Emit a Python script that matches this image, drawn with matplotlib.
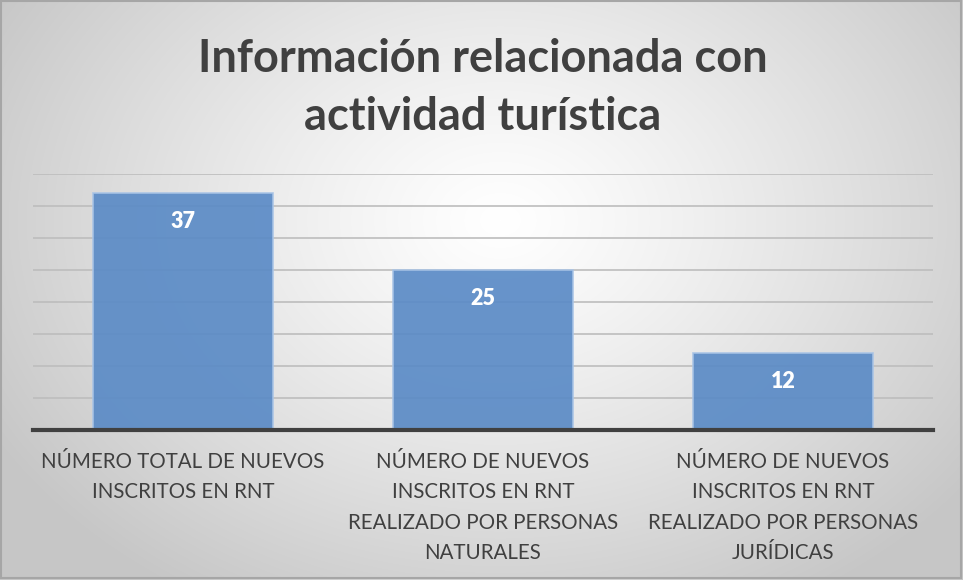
import numpy as np
import matplotlib
matplotlib.use("Agg")
import matplotlib.pyplot as plt
from matplotlib.patches import Rectangle

categories = ["NÚMERO TOTAL DE NUEVOS\nINSCRITOS EN RNT",
              "NÚMERO DE NUEVOS\nINSCRITOS EN RNT\nREALIZADO POR PERSONAS\nNATURALES",
              "NÚMERO DE NUEVOS\nINSCRITOS EN RNT\nREALIZADO POR PERSONAS\nJURÍDICAS"]
values = [37, 25, 12]
title = "Información relacionada con\nactividad turística"

plt.rcParams['font.family'] = ['Lato', 'DejaVu Sans']

W, H = 963, 580
fig = plt.figure(figsize=(W/100, H/100), dpi=100)

# radial gradient background
bg = fig.add_axes([0, 0, 1, 1])
yy, xx = np.mgrid[0:H, 0:W]
cx, cy = 500, 220
r = np.sqrt(((xx - cx) / 580.0) ** 2 + ((yy - cy) / 440.0) ** 2)
r = np.clip(r, 0, 1)
v = 1.0 - 0.22 * r ** 1.2
img = np.dstack([v, v, v])
bg.imshow(img, extent=[0, W, H, 0], aspect='auto', interpolation='bilinear')
bg.add_patch(Rectangle((1, 1), W - 3, H - 3, fill=False, edgecolor='#A6A6A6', linewidth=1.5))
bg.set_xlim(0, W); bg.set_ylim(H, 0)
bg.axis('off')

# main axes: x 33..933, y 174..430 (pixels from top)
ax = fig.add_axes([33/W, 1 - 430/H, 900/W, 256/H])
ax.patch.set_alpha(0)
x = np.arange(len(values))
ax.set_xlim(-0.5, len(values) - 0.5)
ax.set_ylim(0, 40)
ax.set_yticks(np.arange(5, 41, 5))
ax.yaxis.grid(True, color='#BDBDBD', linewidth=1.2)
ax.set_axisbelow(True)
bars = ax.bar(x, values, width=0.6, color='#5B8BC6', alpha=0.92,
              edgecolor='#A9C4E6', linewidth=1.2, zorder=2)
for xi, val in zip(x, values):
    ax.text(xi, val - 4.4, str(val), ha='center', va='center', color='white',
            fontsize=15.5, fontweight='heavy', zorder=3)
for s in ['top', 'right', 'left']:
    ax.spines[s].set_visible(False)
ax.spines['bottom'].set_color('#404040')
ax.spines['bottom'].set_linewidth(3)
ax.spines['bottom'].set_zorder(4)
ax.tick_params(axis='y', left=False, labelleft=False)
ax.tick_params(axis='x', bottom=False, pad=12.5)
ax.set_xticks(x)
ax.set_xticklabels(categories, fontsize=14.8, color='#404040', linespacing=1.64, va='top')

fig.text(483/W, 1 - 88/H, title, ha='center', va='center', fontsize=32.5,
         fontweight='bold', color='#404040', linespacing=1.45)

fig.savefig('out.png', dpi=100)
